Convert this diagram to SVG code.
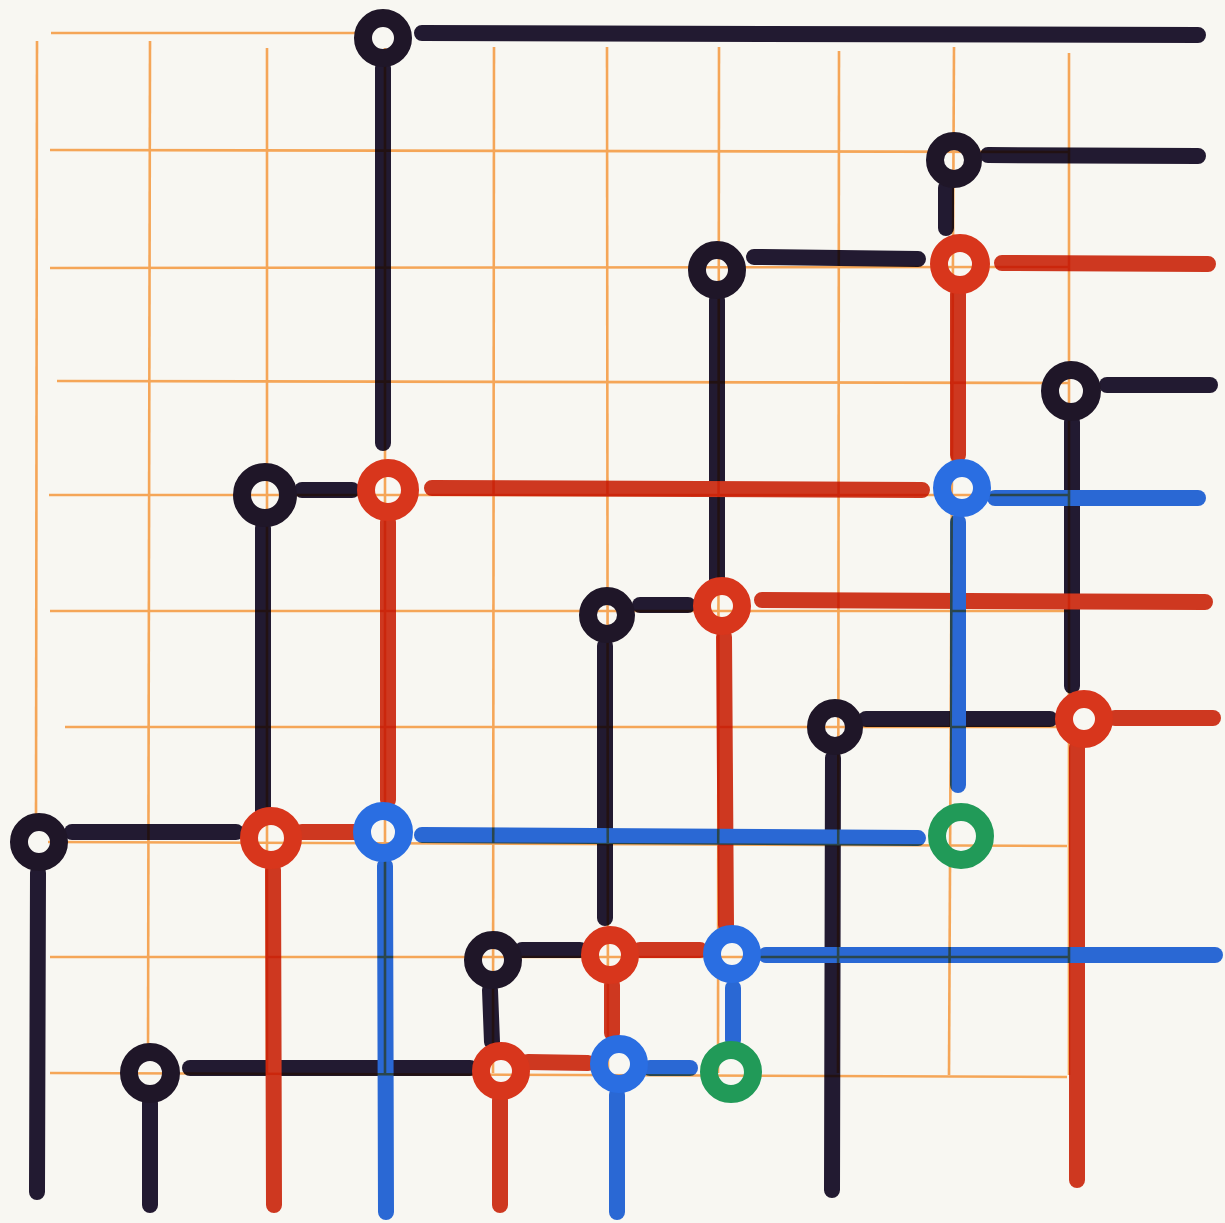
<svg xmlns="http://www.w3.org/2000/svg" width="1225" height="1223" viewBox="0 0 1225 1223">
<style>
.g{stroke:#f5a658;stroke-width:2.6;fill:none}
.c{fill:none;stroke-width:16;stroke-linecap:round}
.k{stroke:#231a33}
.r{stroke:#d43a21}
.b{stroke:#2b6be0}
.n{fill:none;stroke-width:18}
.nk{stroke:#1f1628}
.nr{stroke:#d8361c}
.nb{stroke:#2a6ee2}
.ng{stroke:#219a58}
</style>
<rect width="1225" height="1223" fill="#f8f7f2"/>
<g id="grid">
<line class="g" x1="51" y1="33" x2="370" y2="33"/>
<line class="g" x1="50" y1="150" x2="1069" y2="152"/>
<line class="g" x1="50" y1="268" x2="1069" y2="267"/>
<line class="g" x1="57" y1="381" x2="1069" y2="383"/>
<line class="g" x1="49" y1="495" x2="1069" y2="495"/>
<line class="g" x1="50" y1="611" x2="1069" y2="611"/>
<line class="g" x1="65" y1="727" x2="1069" y2="727"/>
<line class="g" x1="48" y1="842" x2="1067" y2="846"/>
<line class="g" x1="50" y1="957" x2="1069" y2="957"/>
<line class="g" x1="50" y1="1073" x2="1067" y2="1077"/>
<line class="g" x1="37" y1="41" x2="36" y2="820"/>
<line class="g" x1="150" y1="41" x2="148" y2="1060"/>
<line class="g" x1="267" y1="48" x2="267" y2="1073"/>
<line class="g" x1="385" y1="48" x2="385" y2="1073"/>
<line class="g" x1="494" y1="47" x2="493" y2="1073"/>
<line class="g" x1="607" y1="47" x2="608" y2="1073"/>
<line class="g" x1="719" y1="47" x2="718" y2="1073"/>
<line class="g" x1="839" y1="51" x2="838" y2="1073"/>
<line class="g" x1="954" y1="47" x2="949" y2="1075"/>
<line class="g" x1="1069" y1="53" x2="1069" y2="1075"/>
</g>
<g id="connectors" style="mix-blend-mode:multiply">
<line class="c k" x1="422" y1="33" x2="1198" y2="35"/>
<line class="c k" x1="383" y1="68" x2="383" y2="443"/>
<line class="c k" x1="988" y1="155" x2="1198" y2="156"/>
<line class="c k" x1="946" y1="188" x2="946" y2="228"/>
<line class="c k" x1="754" y1="257" x2="918" y2="259"/>
<line class="c k" x1="717" y1="300" x2="717" y2="580"/>
<line class="c k" x1="1107" y1="385" x2="1210" y2="385"/>
<line class="c k" x1="1072" y1="422" x2="1072" y2="686"/>
<line class="c k" x1="302" y1="490" x2="352" y2="490"/>
<line class="c k" x1="263" y1="528" x2="263" y2="815"/>
<line class="c k" x1="640" y1="605" x2="688" y2="605"/>
<line class="c k" x1="605" y1="646" x2="605" y2="918"/>
<line class="c k" x1="866" y1="719" x2="1050" y2="719"/>
<line class="c k" x1="833" y1="758" x2="832" y2="1190"/>
<line class="c k" x1="72" y1="832" x2="236" y2="832"/>
<line class="c k" x1="38" y1="873" x2="37" y2="1192"/>
<line class="c k" x1="522" y1="950" x2="580" y2="950"/>
<line class="c k" x1="490" y1="990" x2="492" y2="1042"/>
<line class="c k" x1="190" y1="1068" x2="470" y2="1068"/>
<line class="c k" x1="150" y1="1103" x2="150" y2="1205"/>
<line class="c r" x1="1002" y1="263" x2="1208" y2="264"/>
<line class="c r" x1="958" y1="294" x2="958" y2="455"/>
<line class="c r" x1="432" y1="488" x2="922" y2="490"/>
<line class="c r" x1="388" y1="522" x2="388" y2="800"/>
<line class="c r" x1="762" y1="600" x2="1205" y2="602"/>
<line class="c r" x1="724" y1="637" x2="726" y2="925"/>
<line class="c r" x1="1115" y1="718" x2="1213" y2="718"/>
<line class="c r" x1="1077" y1="748" x2="1077" y2="1180"/>
<line class="c r" x1="302" y1="832" x2="355" y2="832"/>
<line class="c r" x1="273" y1="870" x2="274" y2="1205"/>
<line class="c r" x1="640" y1="950" x2="700" y2="950"/>
<line class="c r" x1="612" y1="985" x2="612" y2="1033"/>
<line class="c r" x1="528" y1="1062" x2="588" y2="1063"/>
<line class="c r" x1="500" y1="1100" x2="500" y2="1205"/>
<line class="c b" x1="995" y1="498" x2="1198" y2="498"/>
<line class="c b" x1="958" y1="522" x2="958" y2="785"/>
<line class="c b" x1="422" y1="835" x2="918" y2="838"/>
<line class="c b" x1="385" y1="866" x2="386" y2="1212"/>
<line class="c b" x1="766" y1="955" x2="1215" y2="955"/>
<line class="c b" x1="733" y1="988" x2="733" y2="1040"/>
<line class="c b" x1="650" y1="1068" x2="690" y2="1068"/>
<line class="c b" x1="617" y1="1095" x2="617" y2="1212"/>
</g>
<g id="n-b1"><circle class="n nk" cx="383" cy="38" r="20"/></g>
<g id="n-b2"><circle class="n nk" cx="954" cy="160" r="19"/></g>
<g id="n-b3"><circle class="n nk" cx="717" cy="270" r="20"/></g>
<g id="n-b4"><circle class="n nk" cx="1071" cy="391" r="21"/></g>
<g id="n-b5"><circle class="n nk" cx="265" cy="495" r="23"/></g>
<g id="n-b6"><circle class="n nk" cx="607" cy="615" r="19"/></g>
<g id="n-b7"><circle class="n nk" cx="835" cy="727" r="19"/></g>
<g id="n-b8"><circle class="n nk" cx="39" cy="842" r="20"/></g>
<g id="n-b9"><circle class="n nk" cx="493" cy="960" r="20"/></g>
<g id="n-b10"><circle class="n nk" cx="150" cy="1073" r="21"/></g>
<g id="n-r1"><circle class="n nr" cx="960" cy="264" r="21"/></g>
<g id="n-r2"><circle class="n nr" cx="388" cy="490" r="22"/></g>
<g id="n-r3"><circle class="n nr" cx="722" cy="606" r="20"/></g>
<g id="n-r4"><circle class="n nr" cx="1084" cy="719" r="20"/></g>
<g id="n-r5"><circle class="n nr" cx="271" cy="838" r="22"/></g>
<g id="n-r6"><circle class="n nr" cx="610" cy="955" r="20"/></g>
<g id="n-r7"><circle class="n nr" cx="501" cy="1071" r="20"/></g>
<g id="n-bl1"><circle class="n nb" cx="962" cy="488" r="20"/></g>
<g id="n-bl2"><circle class="n nb" cx="383" cy="832" r="21"/></g>
<g id="n-bl3"><circle class="n nb" cx="732" cy="954" r="20"/></g>
<g id="n-bl4"><circle class="n nb" cx="619" cy="1064" r="20"/></g>
<g id="n-g1"><circle class="n ng" cx="961" cy="836" r="24"/></g>
<g id="n-g2"><circle class="n ng" cx="731" cy="1072" r="22"/></g>
</svg>
